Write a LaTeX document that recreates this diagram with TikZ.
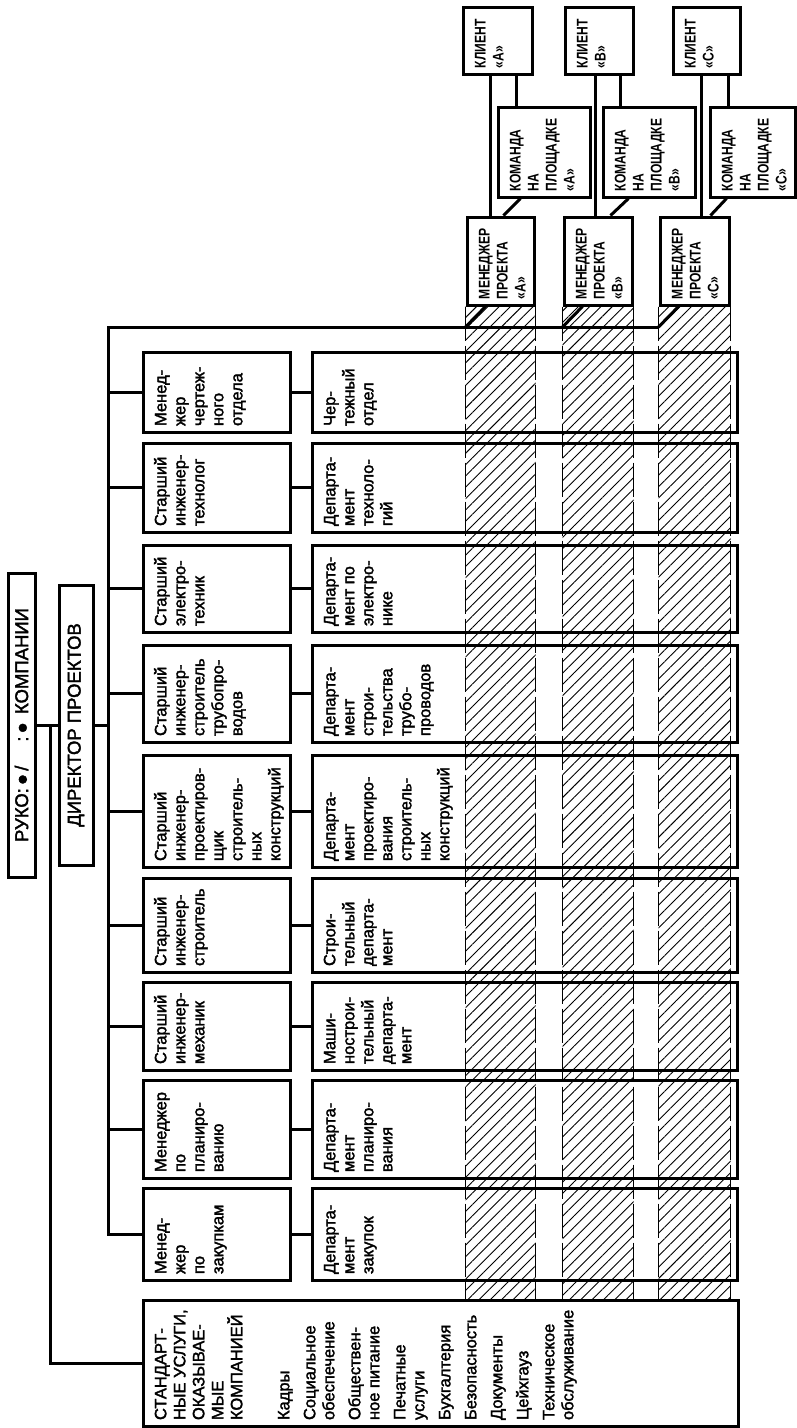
\documentclass[tikz,border=0pt]{standalone}
\usepackage{fontspec}
\setmainfont{Liberation Sans}
\newfontfamily\bodyface{Liberation Sans}[FakeBold=2]
\newfontfamily\capface{Liberation Sans Bold}[FakeStretch=0.78]
\usepackage{graphicx}
\usetikzlibrary{patterns.meta}
% rotated text, set from the box's top-left corner: {box height}{box width}{lines}
\newcommand{\rtext}[3]{\rotatebox{90}{\parbox[c][\dimexpr#2pt-20pt\relax][t]{\dimexpr#1pt-12pt\relax}{\raggedright\strut#3}}}
\newcommand{\bodyfont}{\bodyface\fontsize{16.5}{19}\selectfont}
\newcommand{\capfont}{\capface\fontsize{15.5}{18}\selectfont}
\newcommand{\headfont}{\bodyface\fontsize{18.5}{20}\selectfont}

\begin{document}
\begin{tikzpicture}[
  x=1pt, y=-1pt,
  box/.style={draw, line width=3pt, inner xsep=10pt, inner ysep=6pt, font=\bodyfont},
  capbox/.style={box, font=\capfont},
  headbox/.style={draw, line width=3pt, inner sep=0pt, font=\headfont},
  conn/.style={line width=3pt},
  hatch/.style={pattern={Lines[angle=45, distance=8pt, line width=0.9pt]}},
  hatchedge/.style={line width=1.5pt, dash pattern=on 34pt off 5pt},
]
  \useasboundingbox (0,0) rectangle (797,1428);

  % Head of company and project director
  \node[headbox, minimum width=27pt, minimum height=304pt] (ceo) at (21.5,725)
    {\rotatebox{90}{РУКО:\,●\,/\hspace{24pt}:\,●\ \,КОМПАНИИ}};
  \node[headbox, minimum width=34pt, minimum height=280pt] (dir) at (76,725)
    {\rotatebox{90}{ДИРЕКТОР ПРОЕКТОВ}};
  \coordinate (svc) at (50,725);
  \coordinate (busTop) at (108,327);

  % Senior staff (left column)
  \node[box] (m1) at (216.5,392)  {\rtext{80}{147}{Менед-\\жер\\чертеж-\\ного\\отдела}};
  \node[box] (m2) at (216.5,487.5){\rtext{89}{147}{Старший\\инженер-\\технолог}};
  \node[box] (m3) at (216.5,588.5){\rtext{87}{147}{Старший\\электро-\\техник}};
  \node[box] (m4) at (216.5,693.5){\rtext{97}{147}{Старший\\инженер-\\строитель\\трубопро-\\водов}};
  \node[box] (m5) at (216.5,811)  {\rtext{112}{147}{Старший\\инженер-\\проектиров-\\щик\\строитель-\\ных\\конструкций}};
  \node[box] (m6) at (216.5,925)  {\rtext{94}{147}{Старший\\инженер-\\строитель}};
  \node[box] (m7) at (216.5,1026) {\rtext{88}{147}{Старший\\инженер-\\механик}};
  \node[box] (m8) at (216.5,1129) {\rtext{98}{147}{Менеджер\\по\\планиро-\\ванию}};
  \node[box] (m9) at (216.5,1234) {\rtext{92}{147}{Менед-\\жер\\по\\закупкам}};

  % Departments (long boxes)
  \node[box] (d1) at (524.5,392)  {\rtext{80}{425}{Чер-\\тежный\\отдел}};
  \node[box] (d2) at (524.5,487.5){\rtext{89}{425}{Департа-\\мент\\техноло-\\гий}};
  \node[box] (d3) at (524.5,588.5){\rtext{87}{425}{Департа-\\мент по\\электро-\\нике}};
  \node[box] (d4) at (524.5,693.5){\rtext{97}{425}{Департа-\\мент\\строи-\\тельства\\трубо-\\проводов}};
  \node[box] (d5) at (524.5,811)  {\rtext{112}{425}{Департа-\\мент\\проектиро-\\вания\\строитель-\\ных\\конструкций}};
  \node[box] (d6) at (524.5,925)  {\rtext{94}{425}{Строи-\\тельный\\департа-\\мент}};
  \node[box] (d7) at (524.5,1026) {\rtext{88}{425}{Маши-\\нострои-\\тельный\\департа-\\мент}};
  \node[box] (d8) at (524.5,1129) {\rtext{98}{425}{Департа-\\мент\\планиро-\\вания}};
  \node[box] (d9) at (524.5,1234) {\rtext{92}{425}{Департа-\\мент\\закупок}};

  % Company services
  \node[box] (std) at (440.5,1363) {\rtext{126}{595}{СТАНДАРТ-\\НЫЕ УСЛУГИ,\\ОКАЗЫВАЕ-\\МЫЕ\\КОМПАНИЕЙ\\[28pt]Кадры\\[7pt]Социальное\\обеспечение\\[7pt]Обществен-\\ное питание\\[7pt]Печатные\\услуги\\[7pt]Бухгалтерия\\[7pt]Безопасность\\[7pt]Документы\\[7pt]Цейхгауз\\[7pt]Техническое\\обслуживание}};

  % Project managers, site teams, clients
  \node[capbox] (pmA) at (500.5,261) {\rtext{88}{67}{МЕНЕДЖЕР\\ПРОЕКТА\\«A»}};
  \node[capbox] (pmB) at (598,261)   {\rtext{88}{68}{МЕНЕДЖЕР\\ПРОЕКТА\\«B»}};
  \node[capbox] (pmC) at (694.5,261) {\rtext{88}{69}{МЕНЕДЖЕР\\ПРОЕКТА\\«C»}};
  \node[capbox] (teamA) at (544,152)   {\rtext{90}{92}{КОМАНДА\\НА\\ПЛОЩАДКЕ\\«A»}};
  \node[capbox] (teamB) at (649,152)   {\rtext{90}{92}{КОМАНДА\\НА\\ПЛОЩАДКЕ\\«B»}};
  \node[capbox] (teamC) at (752.5,152) {\rtext{90}{85}{КОМАНДА\\НА\\ПЛОЩАДКЕ\\«C»}};
  \node[capbox] (cliA) at (497.5,40.5) {\rtext{67}{69}{КЛИЕНТ\\«A»}};
  \node[capbox] (cliB) at (599,40.5)   {\rtext{67}{68}{КЛИЕНТ\\«B»}};
  \node[capbox] (cliC) at (706.5,40.5) {\rtext{67}{67}{КЛИЕНТ\\«C»}};

  % Hatched project columns
  \foreach \p in {A,B,C} {
    \path[hatch] (pm\p.south west) rectangle (pm\p.south east |- std.north);
    \draw[hatchedge] (pm\p.south west) -- (pm\p.south west |- std.north);
    \draw[hatchedge] (pm\p.south east) -- (pm\p.south east |- std.north);
  }

  % Lines of command
  \draw[conn] (ceo.east) -- (dir.west);
  \draw[conn] (svc) -- (svc |- std.west) -- (std.west);
  \draw[conn] (dir.east) -- (dir.east -| busTop);
  \draw[conn] (busTop -| pmC.south west) -- (busTop) -- (busTop |- m9.west) -- (m9.west);
  \foreach \i in {1,...,8} \draw[conn] (busTop |- m\i.west) -- (m\i.west);
  \foreach \i in {1,...,9} \draw[conn] (m\i.east) -- (d\i.west);
  \foreach \p in {A,B,C} \draw[conn] (busTop -| pm\p.south west) -- ([xshift=20pt]pm\p.south west);

  % Client, site team and project manager links
  \foreach \p/\ca/\pa/\cb/\ta/\tb/\pb in {A/29/25/55/20/24/38, B/32/33/57/19/27/48, C/30/43/57/20/18/52} {
    \draw[conn] ([xshift=\ca pt]cli\p.south west) -- ([xshift=\pa pt]pm\p.north west);
    \draw[conn] ([xshift=\cb pt]cli\p.south west) -- ([xshift=\ta pt]team\p.north west);
    \draw[conn] ([xshift=\tb pt]team\p.south west) -- ([xshift=\pb pt]pm\p.north west);
  }
\end{tikzpicture}
\end{document}
